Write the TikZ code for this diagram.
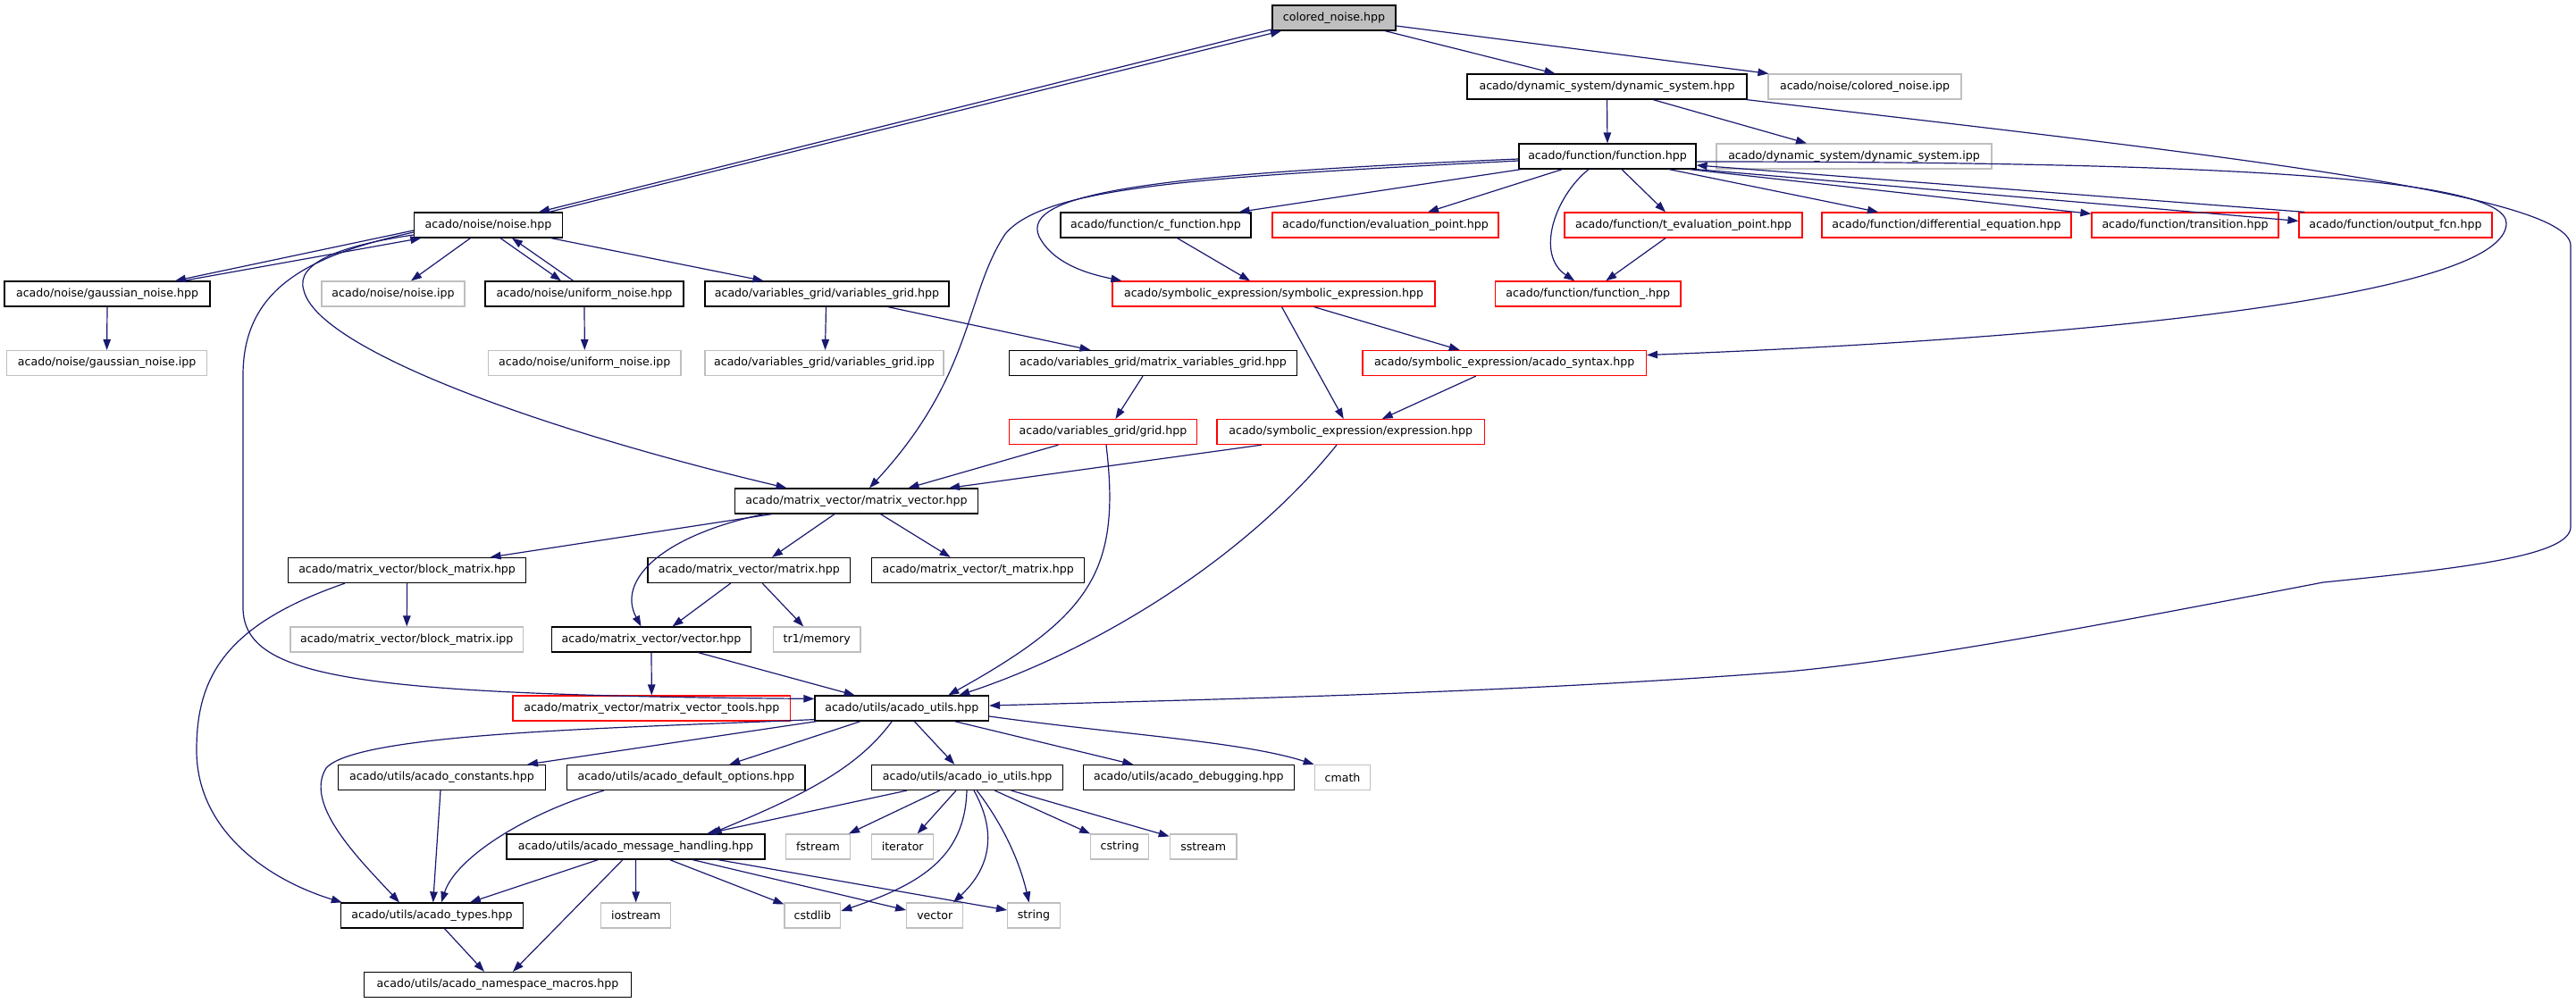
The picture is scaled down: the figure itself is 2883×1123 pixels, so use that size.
\documentclass[tikz,border=0pt]{standalone}
\usepackage{fontspec}
\setmainfont{DejaVu Sans}
\usetikzlibrary{arrows.meta}
\definecolor{edgeblue}{RGB}{25,25,112}
\definecolor{boxgray}{RGB}{191,191,191}
\begin{document}
\begin{tikzpicture}[x=1pt,y=-1pt,
  box/.style={draw, line width=1.2pt, fill=white, minimum height=28pt, inner sep=0pt, font=\fontsize{12.6}{14}\selectfont, text=black},
  bk/.style={box, draw=black},
  gr/.style={box, draw=boxgray},
  rd/.style={box, draw=red},
  e/.style={draw=edgeblue, line width=1.2pt, -{Triangle[length=12pt,width=8.5pt]}}]
\useasboundingbox (0,0) rectangle (2883,1123);
% nodes
\node[bk, fill=boxgray, minimum width=138pt] (cn) at (1493,20) {colored\_noise.hpp};
\node[bk, minimum width=313pt] (dsys) at (1798.5,97) {acado/dynamic\_system/dynamic\_system.hpp};
\node[gr, minimum width=216pt] (cnipp) at (2087,97) {acado/noise/colored\_noise.ipp};
\node[bk, minimum width=198pt] (func) at (1799,175) {acado/function/function.hpp};
\node[gr, minimum width=308pt] (dsipp) at (2075,175) {acado/dynamic\_system/dynamic\_system.ipp};
\node[bk, minimum width=166pt] (noise) at (546.5,252) {acado/noise/noise.hpp};
\node[bk, minimum width=213pt] (cfunc) at (1293.5,252) {acado/function/c\_function.hpp};
\node[rd, minimum width=253pt] (evalp) at (1550.5,252) {acado/function/evaluation\_point.hpp};
\node[rd, minimum width=266pt] (tevalp) at (1884,252) {acado/function/t\_evaluation\_point.hpp};
\node[rd, minimum width=279pt] (diffeq) at (2178.5,252) {acado/function/differential\_equation.hpp};
\node[rd, minimum width=209pt] (trans) at (2445.5,252) {acado/function/transition.hpp};
\node[rd, minimum width=216pt] (outfcn) at (2681,252) {acado/function/output\_fcn.hpp};
\node[bk, minimum width=230pt] (gauss) at (120,329) {acado/noise/gaussian\_noise.hpp};
\node[gr, minimum width=160pt] (noiseipp) at (440,329) {acado/noise/noise.ipp};
\node[bk, minimum width=222pt] (uniform) at (654,329) {acado/noise/uniform\_noise.hpp};
\node[bk, minimum width=273pt] (vgrid) at (925.5,329) {acado/variables\_grid/variables\_grid.hpp};
\node[rd, minimum width=361pt] (symexp) at (1425.5,329) {acado/symbolic\_expression/symbolic\_expression.hpp};
\node[rd, minimum width=207.5pt] (funcu) at (1777.25,329) {acado/function/function\_.hpp};
\node[gr, minimum width=224pt] (gaussipp) at (119.6,406.5) {acado/noise/gaussian\_noise.ipp};
\node[gr, minimum width=215.4pt] (uniipp) at (654.3,406.5) {acado/noise/uniform\_noise.ipp};
\node[gr, minimum width=267pt] (vgridipp) at (922.5,406.5) {acado/variables\_grid/variables\_grid.ipp};
\node[bk, minimum width=322pt] (mvgrid) at (1290.5,406.5) {acado/variables\_grid/matrix\_variables\_grid.hpp};
\node[rd, minimum width=317.5pt] (syntax) at (1683.75,406.5) {acado/symbolic\_expression/acado\_syntax.hpp};
\node[rd, minimum width=209.8pt] (grid) at (1234.4,483.6) {acado/variables\_grid/grid.hpp};
\node[rd, minimum width=299.4pt] (expr) at (1511.7,483.6) {acado/symbolic\_expression/expression.hpp};
\node[bk, minimum width=271.7pt] (mv) at (958.5,561) {acado/matrix\_vector/matrix\_vector.hpp};
\node[bk, minimum width=266pt] (block) at (455.6,638.5) {acado/matrix\_vector/block\_matrix.hpp};
\node[bk, minimum width=226.5pt] (matrix) at (838.25,638.5) {acado/matrix\_vector/matrix.hpp};
\node[bk, minimum width=237.8pt] (tmatrix) at (1094.7,638.5) {acado/matrix\_vector/t\_matrix.hpp};
\node[gr, minimum width=260.5pt] (blockipp) at (455.25,716) {acado/matrix\_vector/block\_matrix.ipp};
\node[bk, minimum width=223.3pt] (vector) at (729,716) {acado/matrix\_vector/vector.hpp};
\node[gr, minimum width=97.6pt] (tr1mem) at (914.2,716) {tr1/memory};
\node[rd, minimum width=310.6pt] (mvtools) at (729.3,793) {acado/matrix\_vector/matrix\_vector\_tools.hpp};
\node[bk, minimum width=194.5pt] (utils) at (1009.25,793) {acado/utils/acado\_utils.hpp};
\node[bk, minimum width=231.5pt] (consts) at (494.5,870.5) {acado/utils/acado\_constants.hpp};
\node[bk, minimum width=266.4pt] (defopts) at (767.8,870.5) {acado/utils/acado\_default\_options.hpp};
\node[bk, minimum width=213.6pt] (ioutils) at (1082.6,870.5) {acado/utils/acado\_io\_utils.hpp};
\node[bk, minimum width=235.9pt] (debug) at (1330.35,870.5) {acado/utils/acado\_debugging.hpp};
\node[gr, minimum width=62.5pt] (cmath) at (1502.5,870.5) {cmath};
\node[bk, minimum width=289pt] (msg) at (711.5,948) {acado/utils/acado\_message\_handling.hpp};
\node[gr, minimum width=72pt] (fstream) at (915.5,948) {fstream};
\node[gr, minimum width=68.8pt] (iterator) at (1010.2,948) {iterator};
\node[gr, minimum width=65pt] (cstring) at (1253.2,948) {cstring};
\node[gr, minimum width=74.7pt] (sstream) at (1346.65,948) {sstream};
\node[bk, minimum width=204.1pt] (types) at (483.45,1025) {acado/utils/acado\_types.hpp};
\node[gr, minimum width=77.8pt] (iostream) at (711.7,1025) {iostream};
\node[gr, minimum width=62.7pt] (cstdlib) at (909.35,1025) {cstdlib};
\node[gr, minimum width=63.1pt] (vecstd) at (1046.25,1025) {vector};
\node[gr, minimum width=58.6pt] (string) at (1156.9,1025) {string};
\node[bk, minimum width=299.1pt] (nsmacros) at (557,1102.5) {acado/utils/acado\_namespace\_macros.hpp};
% edges
\draw[e] ([xshift=57pt]cn.south) -- ([xshift=-58pt]dsys.north);
\draw[e] ([yshift=-9pt]cn.east) -- ([xshift=1pt]cnipp.north west);
\draw[e] ([xshift=1pt,yshift=2pt]cn.south west) -- ([xshift=56.5pt]noise.north);
\draw[e] ([xshift=68pt]noise.north) -- ([xshift=-59pt]cn.south);
\draw[e] (dsys.south) -- (func.north);
\draw[e] ([xshift=51.5pt]dsys.south) -- ([xshift=-53pt]dsipp.north);
\draw[e] ([xshift=-1pt]dsys.south east) .. controls (2450,170) and (2877,215) .. (2877,275) -- (2877,590) .. controls (2877,622) and (2760,636) .. (2600,652) .. controls (2350,700) and (2150,738) .. (2000,752) .. controls (1700,775) and (1400,782) .. ([yshift=3pt]utils.east);
\draw[e] ([xshift=3pt]func.south west) -- ([xshift=-14pt]cfunc.north east);
\draw[e] ([xshift=-50.5pt]func.south) -- ([xshift=47.5pt]evalp.north);
\draw[e] ([xshift=16pt]func.south) -- ([xshift=-20pt]tevalp.north);
\draw[e] ([xshift=-21pt]func.south) .. controls (1740,220) and (1718,285) .. ([xshift=-15pt]funcu.north);
\draw[e] ([xshift=69pt]func.south) -- ([xshift=-76.5pt]diffeq.north);
\draw[e] ([xshift=-8pt]func.south east) -- ([yshift=-2pt]trans.north west);
\draw[e] (func.south east) -- ([yshift=-10pt]outfcn.north west);
\draw[e] ([xshift=7pt]outfcn.north west) -- ([yshift=-10pt]func.east);
\draw[e] ([yshift=-6pt]func.east) .. controls (2500,181) and (2805,200) .. (2805,250) .. controls (2805,330) and (2350,378) .. ([yshift=9pt]syntax.east);
\draw[e] ([yshift=-3pt]func.west) .. controls (1300,195) and (1140,215) .. (1163,265) .. controls (1180,298) and (1225,308) .. ([xshift=11pt]symexp.north west);
\draw[e] ([yshift=-5pt]func.west) .. controls (1350,198) and (1170,208) .. (1125,262) .. controls (1080,330) and (1090,420) .. ([xshift=14.5pt]mv.north);
\draw[e] ([yshift=-6pt]noise.west) -- ([xshift=76pt]gauss.north);
\draw[e] ([xshift=85pt]gauss.north) -- ([xshift=8.5pt]noise.south west);
\draw[e] ([xshift=-20pt]noise.south) -- ([xshift=20pt]noiseipp.north);
\draw[e] ([xshift=13.5pt]noise.south) -- ([xshift=-26pt]uniform.north);
\draw[e] ([xshift=-12.3pt]uniform.north) -- ([xshift=26.5pt]noise.south);
\draw[e] ([xshift=70pt]noise.south) -- ([xshift=-71pt]vgrid.north);
\draw[e] ([yshift=-11pt]noise.west) .. controls (380,275) and (330,295) .. (340,325) .. controls (355,390) and (600,480) .. ([xshift=-78pt]mv.north);
\draw[e] ([yshift=-8pt]noise.west) .. controls (350,285) and (272,320) .. (272,420) -- (272,680) .. controls (272,760) and (400,778) .. ([yshift=-4pt]utils.north west);
\draw[e] ([xshift=-1pt]vgrid.south) -- ([xshift=1pt]vgridipp.north);
\draw[e] ([xshift=68pt]vgrid.south) -- ([xshift=-70pt]mvgrid.north);
\draw[e] (gauss.south) -- (gaussipp.north);
\draw[e] (uniform.south) -- (uniipp.north);
\draw[e] ([xshift=24pt]cfunc.south) -- ([xshift=-26.5pt]symexp.north);
\draw[e] ([xshift=-20pt]tevalp.south) -- ([xshift=20pt]funcu.north);
\draw[e] ([xshift=45pt]symexp.south) -- ([xshift=-50pt]syntax.north);
\draw[e] ([xshift=9pt]symexp.south) -- ([xshift=-8pt]expr.north);
\draw[e] ([xshift=-32pt]syntax.south) -- ([xshift=35pt]expr.north);
\draw[e] ([xshift=-11.5pt]mvgrid.south) -- ([xshift=14pt]grid.north);
\draw[e] ([xshift=-50pt]grid.south) -- ([xshift=58pt]mv.north);
\draw[e] ([xshift=-100pt]expr.south) -- ([xshift=103.5pt]mv.north);
\draw[e] ([xshift=3.6pt]grid.south) .. controls (1255,640) and (1220,690) .. ([xshift=52pt]utils.north);
\draw[e] ([xshift=-15.7pt]expr.south) .. controls (1390,630) and (1220,730) .. ([xshift=64pt]utils.north);
\draw[e] ([xshift=-94.5pt]mv.south) -- ([xshift=93pt]block.north);
\draw[e] ([xshift=-24.5pt]mv.south) -- ([xshift=25.75pt]matrix.north);
\draw[e] ([xshift=27pt]mv.south) -- ([xshift=-31pt]tmatrix.north);
\draw[e] ([xshift=-103.5pt]mv.south) .. controls (740,600) and (690,650) .. ([xshift=-11.5pt]vector.north);
\draw[e] (block.south) -- (blockipp.north);
\draw[e] ([xshift=-69.6pt]block.south) .. controls (250,700) and (220,760) .. (220,840) .. controls (220,930) and (300,985) .. ([xshift=2pt]types.north west);
\draw[e] ([xshift=-20.6pt]matrix.south) -- ([xshift=23.6pt]vector.north);
\draw[e] ([xshift=15pt]matrix.south) -- ([xshift=-15pt]tr1mem.north);
\draw[e] (vector.south) -- (mvtools.north);
\draw[e] ([xshift=52.3pt]vector.south) -- ([xshift=-52.6pt]utils.north);
\draw[e] ([xshift=3pt]utils.south west) -- ([xshift=95.5pt]consts.north);
\draw[e] ([yshift=2pt]utils.south west) .. controls (700,815) and (400,820) .. (365,860) .. controls (340,900) and (400,960) .. ([xshift=-36.5pt]types.north);
\draw[e] ([xshift=-46pt]utils.south) -- ([xshift=48.5pt]defopts.north);
\draw[e] ([xshift=-11pt]utils.south) .. controls (960,860) and (900,890) .. ([xshift=84pt]msg.north);
\draw[e] ([xshift=14pt]utils.south) -- ([xshift=-14.3pt]ioutils.north);
\draw[e] ([xshift=59pt]utils.south) -- ([xshift=-62pt]debug.north);
\draw[e] ([yshift=-9pt]utils.east) .. controls (1250,822) and (1390,830) .. (cmath.north west);
\draw[e] ([xshift=-1.5pt]consts.south) -- ([xshift=1.25pt]types.north);
\draw[e] ([xshift=-91.8pt]defopts.south) .. controls (590,910) and (510,960) .. ([xshift=10.5pt]types.north);
\draw[e] ([xshift=-67.6pt]ioutils.south) -- ([xshift=79.5pt]msg.north);
\draw[e] ([xshift=-31pt]ioutils.south) -- ([xshift=34.5pt]fstream.north);
\draw[e] ([xshift=-12.6pt]ioutils.south) -- ([xshift=16.5pt]iterator.north);
\draw[e] ([xshift=-0.6pt]ioutils.south) .. controls (1080,960) and (1030,990) .. ([yshift=5pt]cstdlib.east);
\draw[e] ([xshift=7.4pt]ioutils.south) .. controls (1115,930) and (1110,970) .. ([xshift=20.7pt]vecstd.north);
\draw[e] ([xshift=10.7pt]ioutils.south) .. controls (1120,920) and (1140,960) .. ([xshift=-5.2pt]string.north);
\draw[e] ([xshift=30.7pt]ioutils.south) -- (cstring.north west);
\draw[e] ([xshift=49pt]ioutils.south) -- ([yshift=-3pt]sstream.north west);
\draw[e] ([xshift=-42pt]msg.south) -- ([xshift=42.5pt]types.north);
\draw[e] ([xshift=-14.5pt]msg.south) -- ([xshift=17pt]nsmacros.north);
\draw[e] (msg.south) -- (iostream.north);
\draw[e] ([xshift=38pt]msg.south) -- ([yshift=-2pt]cstdlib.north west);
\draw[e] ([xshift=63.5pt]msg.south) -- ([yshift=6pt]vecstd.west);
\draw[e] ([xshift=92pt]msg.south) -- ([yshift=6pt]string.west);
\draw[e] ([xshift=14pt]types.south) -- ([xshift=-15pt]nsmacros.north);
\end{tikzpicture}
\end{document}
